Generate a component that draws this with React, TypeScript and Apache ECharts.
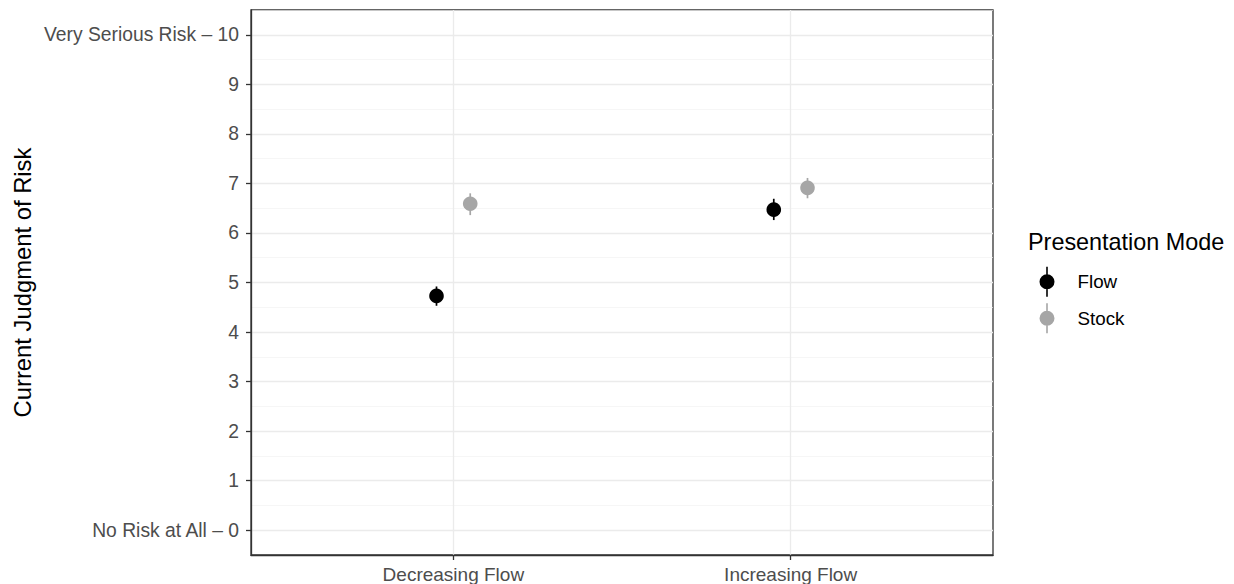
import React, { useEffect, useRef } from "react";
import * as echarts from "echarts";

const categories = ["Decreasing Flow", "Increasing Flow"];
const modes = ["Flow", "Stock"];
const modeColors = ["#000000", "#a6a6a6"];
// mean, lower, upper per category
const flowMean = [4.73, 6.47];
const flowLow = [4.53, 6.26];
const flowHigh = [4.92, 6.69];
const stockMean = [6.59, 6.91];
const stockLow = [6.36, 6.7];
const stockHigh = [6.8, 7.11];
const yTickValues = [0, 1, 2, 3, 4, 5, 6, 7, 8, 9, 10];
const yTickLabels = [
  "No Risk at All – 0",
  "1",
  "2",
  "3",
  "4",
  "5",
  "6",
  "7",
  "8",
  "9",
  "Very Serious Risk – 10",
];

const FONT = "'Liberation Sans', Arial, Helvetica, sans-serif";
const DODGE = 0.05;

const legendIcon =
  "path://M6.7,0 L8.3,0 L8.3,30 L6.7,30 Z M0,15 A7.5,7.5 0 1 1 15,15 A7.5,7.5 0 1 1 0,15 Z";

function buildSeries() {
  const groups = [
    { mean: flowMean, low: flowLow, high: flowHigh, off: -DODGE },
    { mean: stockMean, low: stockLow, high: stockHigh, off: DODGE },
  ];
  return groups.map((g, gi) => ({
    name: modes[gi],
    type: "custom",
    xAxisIndex: 0,
    yAxisIndex: 0,
    itemStyle: { color: modeColors[gi] },
    data: categories.map((_, ci) => [ci + 1 + g.off, g.mean[ci], g.low[ci], g.high[ci]]),
    renderItem: (params: any, api: any) => {
      const x = api.value(0);
      const p = api.coord([x, api.value(1)]);
      const lo = api.coord([x, api.value(2)]);
      const hi = api.coord([x, api.value(3)]);
      const color = modeColors[gi];
      return {
        type: "group",
        children: [
          {
            type: "line",
            shape: { x1: lo[0], y1: lo[1], x2: hi[0], y2: hi[1] },
            style: { stroke: color, lineWidth: 1.7 },
          },
          {
            type: "circle",
            shape: { cx: p[0], cy: p[1], r: 7.3 },
            style: { fill: color },
          },
        ],
      };
    },
  }));
}

export default function App() {
  const ref = useRef<HTMLDivElement>(null);
  useEffect(() => {
    if (!ref.current) return;
    const chart = echarts.init(ref.current, null, { renderer: "svg" });
    const option: any = {
      animation: false,
      backgroundColor: "#ffffff",
      textStyle: { fontFamily: FONT },
      grid: {
        left: 251,
        top: 10,
        width: 742,
        height: 545,
        show: true,
        borderColor: "#333333",
        borderWidth: 1.3,
        backgroundColor: "transparent",
        containLabel: false,
      },
      xAxis: [
        {
          type: "value",
          min: 0.4,
          max: 2.6,
          axisLine: { show: true, onZero: false, lineStyle: { color: "#333333", width: 1.3 } },
          axisTick: {
            show: true,
            length: 5,
            customValues: [1, 2],
            lineStyle: { color: "#333333", width: 1.3 },
          },
          axisLabel: {
            customValues: [1, 2],
            margin: 10,
            fontSize: 19,
            color: "#4d4d4d",
            fontFamily: FONT,
            formatter: (v: number) => categories[Math.round(v) - 1] ?? "",
          },
          splitLine: { show: true, lineStyle: { color: "#ebebeb", width: 1.3 } },
        },
      ],
      yAxis: [
        {
          type: "value",
          min: -0.5,
          max: 10.5,
          interval: 1,
          axisLine: { show: false },
          axisTick: { show: false },
          axisLabel: { show: false },
          splitLine: { show: true, lineStyle: { color: "#f2f2f2", width: 0.7 } },
        },
        {
          type: "value",
          position: "left",
          min: -0.5,
          max: 10.5,
          axisLine: { show: true, onZero: false, lineStyle: { color: "#333333", width: 1.3 } },
          axisTick: {
            show: true,
            length: 5,
            customValues: yTickValues,
            lineStyle: { color: "#333333", width: 1.3 },
          },
          axisLabel: {
            customValues: yTickValues,
            margin: 12,
            fontSize: 19.3,
            color: "#4d4d4d",
            fontFamily: FONT,
            formatter: (v: number) => {
              const i = yTickValues.indexOf(Math.round(v));
              return i >= 0 ? yTickLabels[i] : "";
            },
          },
          splitLine: { show: true, lineStyle: { color: "#ebebeb", width: 1.3 } },
        },
      ],
      legend: {
        orient: "vertical",
        left: 1034.5,
        top: 261.7,
        itemWidth: 51,
        itemHeight: 30,
        itemGap: 6.6,
        data: modes.map((m, i) => ({
          name: m,
          icon: legendIcon,
          itemStyle: { color: modeColors[i] },
        })),
        textStyle: { fontSize: 18.8, color: "#000000", fontFamily: FONT },
        selectedMode: false,
      },
      graphic: [
        {
          type: "text",
          x: 22,
          y: 282.5,
          rotation: Math.PI / 2,
          style: {
            text: "Current Judgment of Risk",
            fontSize: 23.8,
            fontFamily: FONT,
            fill: "#000000",
            align: "center",
            verticalAlign: "middle",
          },
        },
        {
          type: "text",
          x: 1028,
          y: 242,
          style: {
            text: "Presentation Mode",
            fontSize: 23.4,
            fontFamily: FONT,
            fill: "#000000",
            align: "left",
            verticalAlign: "middle",
          },
        },
      ],
      series: buildSeries(),
    };
    chart.setOption(option);
    return () => chart.dispose();
  }, []);
  return (
    <div
      ref={ref}
      style={{ position: "fixed", left: 0, top: 0, width: 1234, height: 584, background: "#fff" }}
    />
  );
}
